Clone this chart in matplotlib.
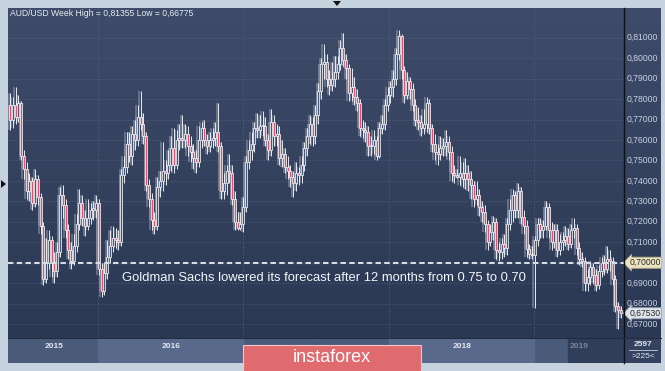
import matplotlib
matplotlib.use("Agg")
import matplotlib.pyplot as plt
import numpy as np
from matplotlib.patches import Rectangle, Polygon
from matplotlib.lines import Line2D
from matplotlib.colors import LinearSegmentedColormap

plt.rcParams['font.family'] = ['Liberation Sans', 'DejaVu Sans']

# ---------------- data (weekly AUD/USD) ----------------
first_open = 0.777
closes = [
    0.770, 0.777, 0.771, 0.778, 0.752, 0.746, 0.735, 0.740, 0.729, 0.741,
    0.732, 0.718, 0.692, 0.700, 0.711, 0.700, 0.696, 0.705, 0.733, 0.728,
    0.716, 0.706, 0.701, 0.708, 0.719, 0.729, 0.722, 0.718, 0.722, 0.726,
    0.726, 0.729, 0.697, 0.686, 0.695, 0.703, 0.708, 0.712, 0.711, 0.710,
    0.743, 0.747, 0.758, 0.752, 0.763, 0.760, 0.771, 0.768, 0.762, 0.738,
    0.731, 0.721, 0.718, 0.737, 0.740, 0.745, 0.744, 0.748, 0.756, 0.748,
    0.760, 0.761, 0.760, 0.763, 0.757, 0.754, 0.751, 0.749, 0.760, 0.766,
    0.760, 0.757, 0.760, 0.761, 0.764, 0.757, 0.735, 0.739, 0.745, 0.744,
    0.731, 0.720, 0.717, 0.719, 0.727, 0.749, 0.755, 0.758, 0.766, 0.765,
    0.767, 0.767, 0.760, 0.755, 0.769, 0.762, 0.763, 0.751, 0.753, 0.747,
    0.745, 0.742, 0.739, 0.744, 0.743, 0.748, 0.756, 0.762, 0.768, 0.762,
    0.772, 0.784, 0.797, 0.798, 0.790, 0.787, 0.790, 0.793, 0.797, 0.805,
    0.799, 0.795, 0.783, 0.786, 0.781, 0.778, 0.766, 0.765, 0.764, 0.757,
    0.757, 0.760, 0.752, 0.766, 0.768, 0.777, 0.782, 0.786, 0.790, 0.802,
    0.811, 0.794, 0.782, 0.789, 0.785, 0.777, 0.770, 0.769, 0.766, 0.768,
    0.778, 0.766, 0.758, 0.754, 0.753, 0.756, 0.757, 0.759, 0.754, 0.744,
    0.743, 0.742, 0.744, 0.741, 0.744, 0.741, 0.738, 0.731, 0.733, 0.727,
    0.725, 0.719, 0.710, 0.715, 0.720, 0.706, 0.705, 0.709, 0.707, 0.719,
    0.726, 0.733, 0.726, 0.735, 0.7225, 0.718, 0.7065, 0.7045, 0.704, 0.711,
    0.719, 0.716, 0.718, 0.727, 0.716, 0.710, 0.716, 0.706, 0.710, 0.711,
    0.713, 0.709, 0.716, 0.717, 0.707, 0.702, 0.701, 0.690, 0.693, 0.698,
    0.694, 0.689, 0.696, 0.700, 0.697, 0.702, 0.701, 0.692, 0.679, 0.677,
    0.6753,
]
highs = [
    0.783, 0.781, 0.786, 0.782, 0.779, 0.755, 0.749, 0.744, 0.742, 0.746,
    0.743, 0.734, 0.720, 0.712, 0.716, 0.713, 0.705, 0.710, 0.737, 0.738,
    0.731, 0.719, 0.710, 0.714, 0.724, 0.736, 0.733, 0.726, 0.731, 0.729,
    0.730, 0.733, 0.731, 0.700, 0.700, 0.711, 0.716, 0.718, 0.717, 0.716,
    0.746, 0.752, 0.764, 0.764, 0.767, 0.770, 0.777, 0.784, 0.773, 0.764,
    0.741, 0.734, 0.725, 0.742, 0.745, 0.759, 0.750, 0.755, 0.762, 0.766,
    0.765, 0.768, 0.772, 0.768, 0.767, 0.762, 0.758, 0.755, 0.767, 0.769,
    0.770, 0.763, 0.764, 0.766, 0.769, 0.778, 0.759, 0.744, 0.748, 0.753,
    0.748, 0.735, 0.725, 0.725, 0.732, 0.752, 0.760, 0.764, 0.769, 0.773,
    0.772, 0.774, 0.771, 0.763, 0.775, 0.772, 0.768, 0.767, 0.760, 0.756,
    0.752, 0.748, 0.745, 0.749, 0.747, 0.752, 0.759, 0.766, 0.772, 0.771,
    0.777, 0.788, 0.800, 0.807, 0.802, 0.794, 0.798, 0.801, 0.801, 0.809,
    0.8125, 0.802, 0.797, 0.795, 0.791, 0.785, 0.780, 0.770, 0.769, 0.767,
    0.762, 0.765, 0.762, 0.769, 0.772, 0.780, 0.786, 0.789, 0.794, 0.805,
    0.81355, 0.812, 0.796, 0.793, 0.791, 0.788, 0.780, 0.776, 0.772, 0.775,
    0.781, 0.780, 0.768, 0.763, 0.758, 0.762, 0.761, 0.765, 0.762, 0.757,
    0.748, 0.746, 0.752, 0.749, 0.751, 0.748, 0.745, 0.740, 0.740, 0.736,
    0.730, 0.728, 0.721, 0.719, 0.723, 0.722, 0.710, 0.712, 0.714, 0.722,
    0.731, 0.736, 0.735, 0.739, 0.737, 0.726, 0.721, 0.709, 0.708, 0.713,
    0.722, 0.722, 0.721, 0.730, 0.729, 0.720, 0.719, 0.719, 0.714, 0.715,
    0.718, 0.717, 0.719, 0.722, 0.719, 0.710, 0.705, 0.703, 0.697, 0.701,
    0.700, 0.697, 0.699, 0.703, 0.704, 0.708, 0.706, 0.703, 0.694, 0.681,
    0.679,
]
lows = [
    0.765, 0.766, 0.768, 0.769, 0.750, 0.741, 0.731, 0.730, 0.726, 0.727,
    0.728, 0.714, 0.689, 0.690, 0.697, 0.693, 0.690, 0.693, 0.703, 0.722,
    0.712, 0.702, 0.697, 0.699, 0.705, 0.716, 0.718, 0.713, 0.716, 0.719,
    0.721, 0.722, 0.694, 0.683, 0.684, 0.692, 0.700, 0.705, 0.707, 0.706,
    0.708, 0.739, 0.744, 0.749, 0.748, 0.755, 0.757, 0.765, 0.758, 0.735,
    0.727, 0.716, 0.714, 0.716, 0.732, 0.735, 0.738, 0.741, 0.745, 0.744,
    0.746, 0.755, 0.756, 0.756, 0.752, 0.749, 0.746, 0.744, 0.747, 0.756,
    0.757, 0.753, 0.754, 0.756, 0.757, 0.754, 0.731, 0.731, 0.733, 0.739,
    0.728, 0.716, 0.716, 0.716, 0.715, 0.725, 0.746, 0.750, 0.754, 0.761,
    0.761, 0.762, 0.757, 0.750, 0.752, 0.757, 0.757, 0.748, 0.747, 0.744,
    0.741, 0.737, 0.732, 0.735, 0.738, 0.739, 0.745, 0.752, 0.758, 0.757,
    0.758, 0.768, 0.780, 0.790, 0.786, 0.782, 0.784, 0.786, 0.790, 0.794,
    0.796, 0.790, 0.779, 0.779, 0.777, 0.774, 0.762, 0.761, 0.759, 0.752,
    0.752, 0.753, 0.7501, 0.751, 0.763, 0.765, 0.774, 0.778, 0.781, 0.787,
    0.799, 0.790, 0.778, 0.780, 0.780, 0.774, 0.767, 0.765, 0.762, 0.763,
    0.764, 0.763, 0.754, 0.750, 0.748, 0.750, 0.752, 0.752, 0.750, 0.740,
    0.739, 0.7413, 0.738, 0.737, 0.736, 0.735, 0.731, 0.727, 0.728, 0.723,
    0.720, 0.715, 0.706, 0.708, 0.711, 0.702, 0.701, 0.702, 0.703, 0.704,
    0.716, 0.720, 0.722, 0.722, 0.719, 0.714, 0.703, 0.702, 0.702, 0.678,
    0.708, 0.712, 0.712, 0.716, 0.712, 0.706, 0.707, 0.703, 0.704, 0.706,
    0.708, 0.706, 0.707, 0.712, 0.704, 0.699, 0.698, 0.686, 0.686, 0.689,
    0.690, 0.686, 0.687, 0.693, 0.694, 0.695, 0.696, 0.689, 0.676, 0.66775,
    0.673,
]
price_levels = [0.67, 0.68, 0.69, 0.70, 0.71, 0.72, 0.73, 0.74, 0.75,
                0.76, 0.77, 0.78, 0.79, 0.80, 0.81]
year_labels = ['2015', '2016', '2018', '2019']   # 2017 is hidden under the logo
year_starts = [31.7, 83.9, 136.5, 188.7]   # bar index where each new year begins
forecast_level = 0.70
last_price = 0.6753
title = 'AUD/USD Week High = 0,81355 Low = 0,66775'
note = 'Goldman Sachs lowered its forecast after 12 months from 0.75 to 0.70'

# ---------------- figure ----------------
W, H = 665, 371
fig = plt.figure(figsize=(6.65, 3.71), dpi=100)
fig.patch.set_facecolor('#c7d2df')


def fbox(x0, y0, x1, y1):
    return [x0 / W, 1 - y1 / H, (x1 - x0) / W, (y1 - y0) / H]


YLIM = (0.6632, 0.8245)
XLIM = (-0.72, 221.1)
bg = LinearSegmentedColormap.from_list('bg', ['#3e4c6a', '#2b3853'])
grad = np.linspace(0, 1, 256).reshape(-1, 1)

ax = fig.add_axes(fbox(8, 8, 624, 338))
ax.set_xlim(*XLIM)
ax.set_ylim(*YLIM)
ax.axis('off')
ax.imshow(grad, extent=[XLIM[0], XLIM[1], YLIM[0], YLIM[1]], aspect='auto',
          cmap=bg, origin='upper', zorder=0)

for p in price_levels:
    ax.axhline(p, color='#5a6884', lw=0.6, ls=(0, (1, 2.2)), zorder=1)
for ys in year_starts:
    ax.axvline(ys, color='#5a6884', lw=0.6, ls=(0, (1, 2.2)), zorder=1)

c = np.array(closes)
hi = np.array(highs)
lo = np.array(lows)
o = np.r_[first_open, c[:-1]]
x = np.arange(len(c))
up = c >= o
bot = np.minimum(o, c)
hgt = np.maximum(np.abs(c - o), 0.0005)

# grey ghost candles
ax.vlines(x - 0.5, lo, hi, color='#8b94a7', lw=1.1, alpha=0.75, zorder=2)
ax.bar(x - 0.5, hgt, bottom=bot, width=0.85, color='#8b94a7', alpha=0.7,
       lw=0, zorder=2)
# main candles
ax.vlines(x, lo, hi, color='#f4f6fa', lw=0.65, zorder=3)
ax.bar(x[up], hgt[up], bottom=bot[up], width=0.72, facecolor='#4a5774',
       edgecolor='#f4f6fa', lw=0.55, zorder=4)
ax.bar(x[~up], hgt[~up], bottom=bot[~up], width=0.72, facecolor='#e84e68',
       edgecolor='#f4f6fa', lw=0.55, zorder=4)

ax.axhline(forecast_level, color='#d6dce6', lw=1.5, dashes=(2.6, 1.6), zorder=5)

# ---------------- right price panel ----------------
axr = fig.add_axes(fbox(624, 8, 661, 338))
axr.set_xlim(0, 1)
axr.set_ylim(*YLIM)
axr.axis('off')
axr.imshow(grad, extent=[0, 1, YLIM[0], YLIM[1]], aspect='auto', cmap=bg,
           origin='upper', zorder=0)
for p in price_levels:
    if abs(p - forecast_level) < 1e-9:
        continue
    axr.text(0.07, p, f'{p:.5f}'.replace('.', ','), fontsize=6.2,
             color='#c9d2e2', va='center', ha='left', zorder=2)
axr.text(0.14, forecast_level, f'{forecast_level:.5f}'.replace('.', ','),
         fontsize=6.2, color='#2a2a2a', va='center', ha='left', zorder=3,
         bbox=dict(boxstyle='larrow,pad=0.12', fc='#ebe4c0', ec='#b9b08a', lw=0.6))
axr.text(0.14, last_price, f'{last_price:.5f}'.replace('.', ','),
         fontsize=6.2, color='#2a2a2a', va='center', ha='left', zorder=3,
         bbox=dict(boxstyle='larrow,pad=0.12', fc='#dfe3ea', ec='#9aa3b3', lw=0.6))

# ---------------- bottom time strip ----------------
axb = fig.add_axes(fbox(8, 338, 661, 363))
axb.set_xlim(8, 661)
axb.set_ylim(363, 338)
axb.axis('off')
axb.axvspan(8, 624, color='#4a5a79', zorder=0)
axb.axvspan(98, 243, color='#58698b', zorder=1)
axb.axvspan(389, 534, color='#58698b', zorder=1)
axb.axvspan(568, 624, color='#303e5a', zorder=1)
axb.axvspan(624, 661, color='#34425f', zorder=1)
year_px = [54, 171, 462, 579]
for lab, xp in zip(year_labels, year_px):
    col = '#7c879b' if lab == '2019' else '#e3e8f0'
    axb.text(xp, 346, lab, fontsize=6, color=col, ha='center', va='center',
             fontweight='bold', zorder=2)
axb.text(643, 344, '2597', fontsize=6, color='#e3e8f0', ha='center',
         va='center', fontweight='bold', zorder=2)
axb.plot([629, 657], [350, 350], color='#c9d2e2', lw=0.6, zorder=2)
axb.text(643, 356, '>225<', fontsize=6, color='#e3e8f0', ha='center',
         va='center', zorder=2)

# separators
fig.add_artist(Line2D([624 / W, 624 / W], [1 - 8 / H, 1 - 363 / H],
                      color='#0b1019', lw=1.0))
fig.add_artist(Line2D([8 / W, 661 / W], [1 - 338 / H, 1 - 338 / H],
                      color='#222b3d', lw=0.7))

# texts
fig.text(10 / W, 1 - 14 / H, title, fontsize=6.2, color='#e8ecf2',
         ha='left', va='center')
fig.text(122 / W, 1 - 278 / H, note, fontsize=9.4, color='#f2f5f9',
         ha='left', va='center', zorder=10)

# logo
fig.add_artist(Rectangle((243 / W, -0.01), 178 / W, (371 - 345) / H + 0.01,
                         transform=fig.transFigure, fc='#e06b6f', ec='#f3c4c4',
                         lw=0.8, zorder=20))
fig.text(332 / W, 1 - 357 / H, 'instaforex', fontsize=13, color='white',
         ha='center', va='center', zorder=21)

# small triangles
fig.add_artist(Polygon([[333 / W, 1 - 1 / H], [341 / W, 1 - 1 / H],
                        [337 / W, 1 - 6 / H]], closed=True,
                       transform=fig.transFigure, fc='#111', ec='none'))
fig.add_artist(Polygon([[1 / W, 1 - 180 / H], [1 / W, 1 - 188 / H],
                        [6 / W, 1 - 184 / H]], closed=True,
                       transform=fig.transFigure, fc='#111', ec='none'))

fig.savefig('out.png', dpi=100, facecolor=fig.get_facecolor())
